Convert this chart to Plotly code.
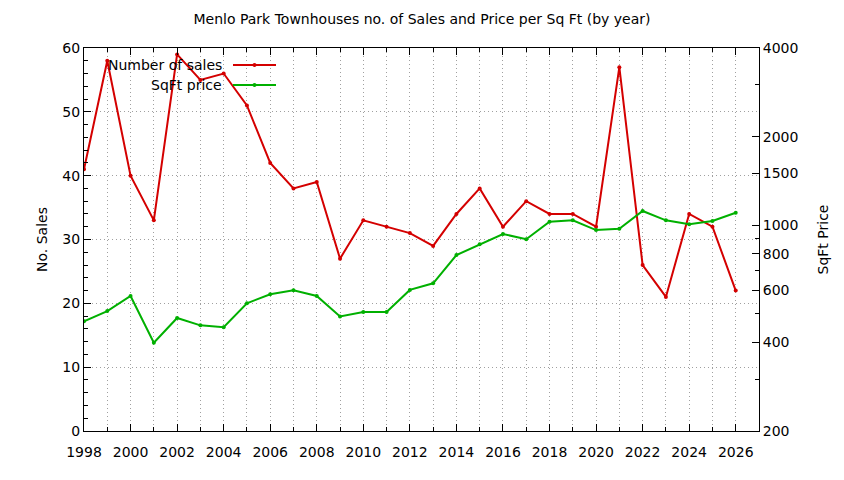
import plotly.graph_objects as go

# yearly data
years = list(range(1998, 2027))
num_sales = [41, 58, 40, 33, 59, 55, 56, 51, 42, 38, 39, 27, 33, 32, 31, 29,
             34, 38, 32, 36, 34, 34, 32, 57, 26, 21, 34, 32, 22]
sqft_price = [472, 511, 575, 399, 484, 457, 450, 543, 583, 601, 575, 490, 507, 507, 603, 635,
              792, 861, 934, 896, 1028, 1039, 963, 973, 1118, 1039, 1007, 1034, 1103]

y2_ticks = [200, 400, 600, 800, 1000, 1500, 2000, 4000]
y2_minor = [300, 500, 700, 900, 3000]

RED = '#d40000'
GREEN = '#00b000'
FONT = 'DejaVu Sans'
GRID = '#a0a0a0'
DOTS = '1px,3px'

# page body has an 8px margin, so the figure is sized to fit inside the window
W, H = 828, 464
L, T = 76, 40
R, B = 77, 41
plot_w = W - L - R
plot_h = H - T - B

fig = go.Figure()
fig.add_trace(go.Scatter(x=years, y=num_sales, name='Number of sales', mode='lines+markers',
                         line=dict(color=RED, width=2), marker=dict(size=4, color=RED),
                         yaxis='y'))
fig.add_trace(go.Scatter(x=years, y=sqft_price, name='SqFt price', mode='lines+markers',
                         line=dict(color=GREEN, width=2), marker=dict(size=4, color=GREEN),
                         yaxis='y2'))

# gnuplot-style key: text right aligned, sample line to the right
key = [('Number of sales', RED), ('SqFt price', GREEN)]
for row, (label, col) in enumerate(key):
    yk = 1 - (17 + 20 * row) / plot_h
    fig.add_annotation(xref='paper', yref='paper', x=140 / plot_w, y=yk, text=label,
                       showarrow=False, xanchor='right', yanchor='middle',
                       font=dict(family=FONT, size=14, color='black'))
    fig.add_shape(type='line', xref='paper', yref='paper', x0=149 / plot_w, x1=192 / plot_w,
                  y0=yk, y1=yk, line=dict(color=col, width=2))
    fig.add_trace(go.Scatter(x=[170.5 / plot_w], y=[yk], mode='markers', xaxis='x2', yaxis='y3',
                             marker=dict(size=4, color=col), showlegend=False, hoverinfo='skip'))

axis_common = dict(showline=True, linecolor='black', linewidth=1, ticks='inside',
                   tickcolor='black', tickfont=dict(family=FONT, size=14, color='black'),
                   zeroline=False, automargin=False)

fig.update_layout(
    width=W, height=H,
    margin=dict(l=L, r=R, t=T, b=B),
    paper_bgcolor='white', plot_bgcolor='white',
    showlegend=False,
    title=dict(text='Menlo Park Townhouses no. of Sales and Price per Sq Ft (by year)',
               x=0.5, xanchor='center', y=1 - 11 / H, yanchor='middle',
               font=dict(family=FONT, size=14, color='black')),
    xaxis=dict(range=[1998, 2027], tick0=1998, dtick=2, ticklen=7, mirror='ticks',
               ticklabelstandoff=8,
               showgrid=True, gridcolor=GRID, griddash=DOTS, gridwidth=1,
               minor=dict(dtick=1, tick0=1998, ticks='inside', ticklen=4, tickcolor='black',
                          showgrid=True, gridcolor=GRID, griddash=DOTS, gridwidth=1),
               **axis_common),
    yaxis=dict(range=[0, 60], dtick=10, ticklen=7,
               showgrid=True, gridcolor=GRID, griddash=DOTS, gridwidth=1,
               minor=dict(dtick=2, ticks='inside', ticklen=4, tickcolor='black', showgrid=False),
               title=dict(text='No. Sales', font=dict(family=FONT, size=14, color='black'), standoff=11),
               **axis_common),
    yaxis2=dict(type='log', overlaying='y', side='right', range=[2.30103, 3.60206],
                tickmode='array', tickvals=y2_ticks, ticktext=[str(v) for v in y2_ticks], ticklen=7,
                showgrid=False,
                minor=dict(tickmode='array', tickvals=y2_minor, ticks='inside', ticklen=4,
                           tickcolor='black', showgrid=False),
                title=dict(text='SqFt Price', font=dict(family=FONT, size=14, color='black'), standoff=20),
                **axis_common),
    xaxis2=dict(overlaying='x', range=[0, 1], visible=False),
    yaxis3=dict(overlaying='y', range=[0, 1], visible=False),
)

fig.write_html('out.html')
